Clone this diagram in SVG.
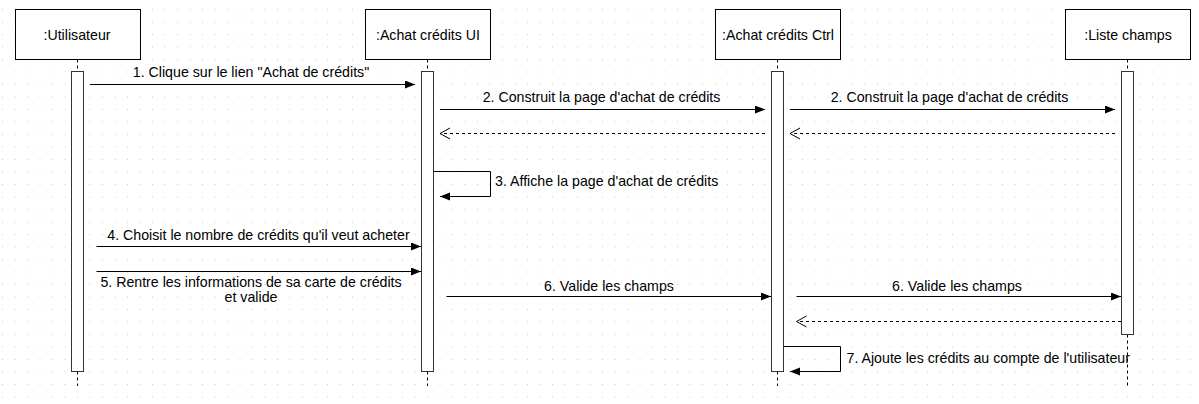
<svg xmlns="http://www.w3.org/2000/svg" width="1199" height="404" viewBox="0 0 1199 404">
<style>
text{font-family:"Liberation Sans",Arial,sans-serif;font-size:14.2px;fill:#000}
.box{fill:#fff;stroke:#000;stroke-width:1}
.bar{fill:#fff;stroke:#333;stroke-width:1}
.life{stroke:#000;stroke-width:1;stroke-dasharray:3 3;fill:none}
.msg{stroke:#000;stroke-width:1;fill:none;marker-end:url(#block)}
.ret{stroke:#000;stroke-width:1;fill:none;stroke-dasharray:3 3;marker-end:url(#open)}
.c{text-anchor:middle}
</style>
<defs>
<pattern id="grid" patternUnits="userSpaceOnUse" x="2" y="9" width="12.5" height="12.5">
<rect x="0" y="0" width="1" height="1" fill="#cccccc"/>
</pattern>
<marker id="block" markerUnits="userSpaceOnUse" markerWidth="12" markerHeight="10" refX="10" refY="4" orient="auto">
<path d="M0,0 L10,4 L0,8 Z" fill="#000"/>
</marker>
<marker id="open" markerUnits="userSpaceOnUse" markerWidth="12" markerHeight="13" refX="10.5" refY="6" orient="auto">
<path d="M0.5,0.5 L10.5,6 L0.5,11.5" fill="none" stroke="#000" stroke-width="1"/>
</marker>
</defs>
<rect x="0" y="0" width="1199" height="404" fill="#fff"/>
<rect x="0" y="0" width="1199" height="404" fill="url(#grid)"/>

<g id="lifelines">
<path class="life" d="M77.5,59.5 V71.5 M77.5,371.5 V386"/>
<path class="life" d="M427.5,59.5 V71.5 M427.5,371.5 V386"/>
<path class="life" d="M777.5,59.5 V71.5 M777.5,371.5 V386"/>
<path class="life" d="M1127.5,59.5 V71.5 M1127.5,334.5 V386"/>
</g>

<g id="node-utilisateur">
<rect class="box" x="15.5" y="9.5" width="125" height="50"/>
<text class="c" x="77" y="39.5">:Utilisateur</text>
<rect class="bar" x="71.5" y="71.5" width="12" height="300"/>
</g>
<g id="node-achat-ui">
<rect class="box" x="365.5" y="9.5" width="125" height="50"/>
<text class="c" x="428" y="39.5">:Achat crédits UI</text>
<rect class="bar" x="421.5" y="71.5" width="12" height="300"/>
</g>
<g id="node-achat-ctrl">
<rect class="box" x="715.5" y="9.5" width="125" height="50"/>
<text class="c" x="778" y="39.5">:Achat crédits Ctrl</text>
<rect class="bar" x="771.5" y="71.5" width="12" height="300"/>
</g>
<g id="node-liste-champs">
<rect class="box" x="1065.5" y="9.5" width="125" height="50"/>
<text class="c" x="1128" y="39.5">:Liste champs</text>
<rect class="bar" x="1121.5" y="71.5" width="12" height="263"/>
</g>

<g id="connectors">
<path class="msg" d="M90,84.5 H415"/>
<text class="c" x="251" y="77">1. Clique sur le lien "Achat de crédits"</text>

<path class="msg" d="M440,109.5 H765"/>
<text class="c" x="601.5" y="101.5">2. Construit la page d'achat de crédits</text>
<path class="msg" d="M790,109.5 H1115"/>
<text class="c" x="949.5" y="101.5">2. Construit la page d'achat de crédits</text>

<path class="ret" d="M765,133.5 H440"/>
<path class="ret" d="M1115,133.5 H790"/>

<path class="msg" d="M433.5,171.5 H490.5 V196.5 H440"/>
<text x="495" y="185.5">3. Affiche la page d'achat de crédits</text>

<path class="msg" d="M96.5,246.5 H421"/>
<text class="c" x="258.5" y="240">4. Choisit le nombre de crédits qu'il veut acheter</text>

<path class="msg" d="M96.5,271.5 H421"/>
<text class="c" x="251" y="286.5">5. Rentre les informations de sa carte de crédits</text>
<text class="c" x="251" y="301.5">et valide</text>

<path class="msg" d="M446.5,296.5 H771"/>
<text class="c" x="609" y="290.5">6. Valide les champs</text>
<path class="msg" d="M796.5,296.5 H1121"/>
<text class="c" x="957" y="290.5">6. Valide les champs</text>

<path class="ret" d="M1121,321.5 H796.5"/>

<path class="msg" d="M783.5,346.5 H840.5 V371.5 H790"/>
<text x="846.5" y="363">7. Ajoute les crédits au compte de l'utilisateur</text>
</g>
</svg>
